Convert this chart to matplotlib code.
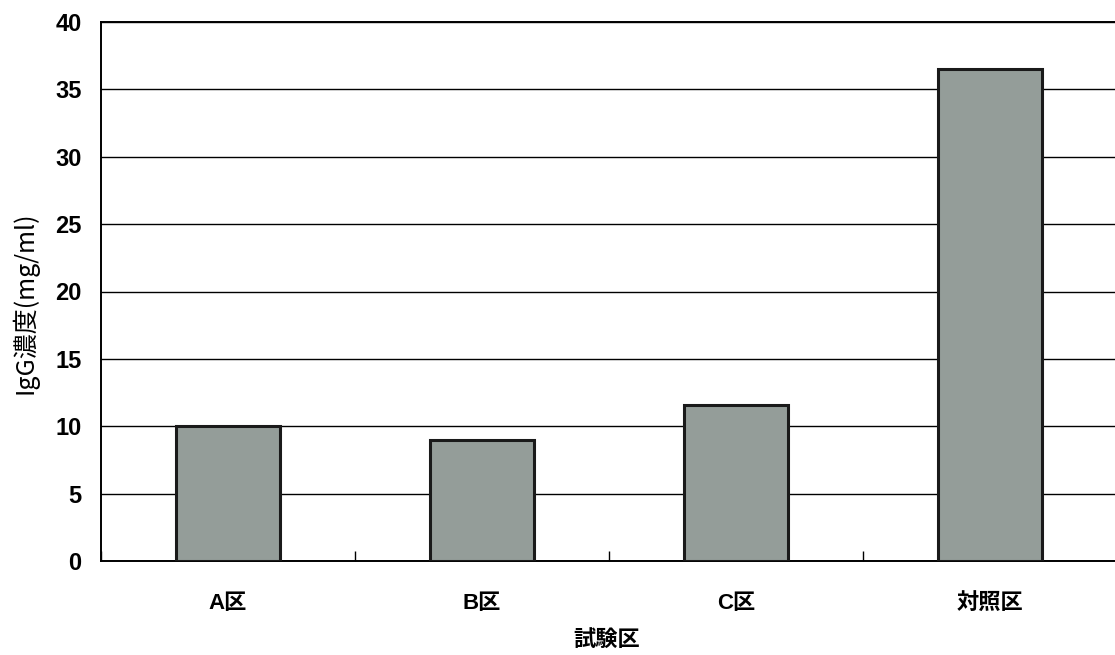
import matplotlib
matplotlib.use('Agg')
import matplotlib.pyplot as plt
import numpy as np

plt.rcParams['font.family'] = ['Liberation Sans', 'Noto Sans CJK JP', 'DejaVu Sans']

# IgG concentration per test plot
groups = ['A区', 'B区', 'C区', '対照区']
igg = [10.0, 9.0, 11.6, 36.5]
yticks = [0, 5, 10, 15, 20, 25, 30, 35, 40]

fig = plt.figure(figsize=(11.15, 6.55), dpi=100)
ax = fig.add_axes([101 / 1115, 1 - 561 / 655, 1016 / 1115, 539 / 655])

x = np.arange(len(groups))
ax.bar(x, igg, width=0.41, color='#949d99', edgecolor='#1a1a1a', linewidth=2.2, zorder=3)

ax.set_xlim(-0.5, len(groups) - 0.5)
ax.set_ylim(0, 40)
ax.set_yticks(yticks)
ax.set_yticklabels([str(v) for v in yticks], fontsize=17, fontweight='bold')
ax.yaxis.grid(True, color='black', linewidth=1.0, zorder=0)

ax.set_xticks(x)
ax.set_xticklabels(groups, fontsize=16, fontweight='bold')
ax.set_xticks(np.arange(len(groups) + 1) - 0.5, minor=True)
ax.tick_params(axis='x', which='major', length=0, pad=23)
ax.tick_params(axis='x', which='minor', direction='in', length=7, width=1)
ax.tick_params(axis='y', length=0, pad=14)

for side in ['left', 'bottom', 'top']:
    ax.spines[side].set_linewidth(1.4)
ax.spines['right'].set_visible(False)

ax.set_xlabel('試験区', fontsize=16, fontweight='bold', va='center')
ax.xaxis.set_label_coords(0.498, -79 / 539)
ax.set_ylabel('IgG濃度(mg/ml)', fontsize=18, va='center',
              family=['Noto Sans CJK JP', 'DejaVu Sans'])
ax.yaxis.set_label_coords(-76 / 1016, 0.48)

fig.savefig('out.png', dpi=100)
